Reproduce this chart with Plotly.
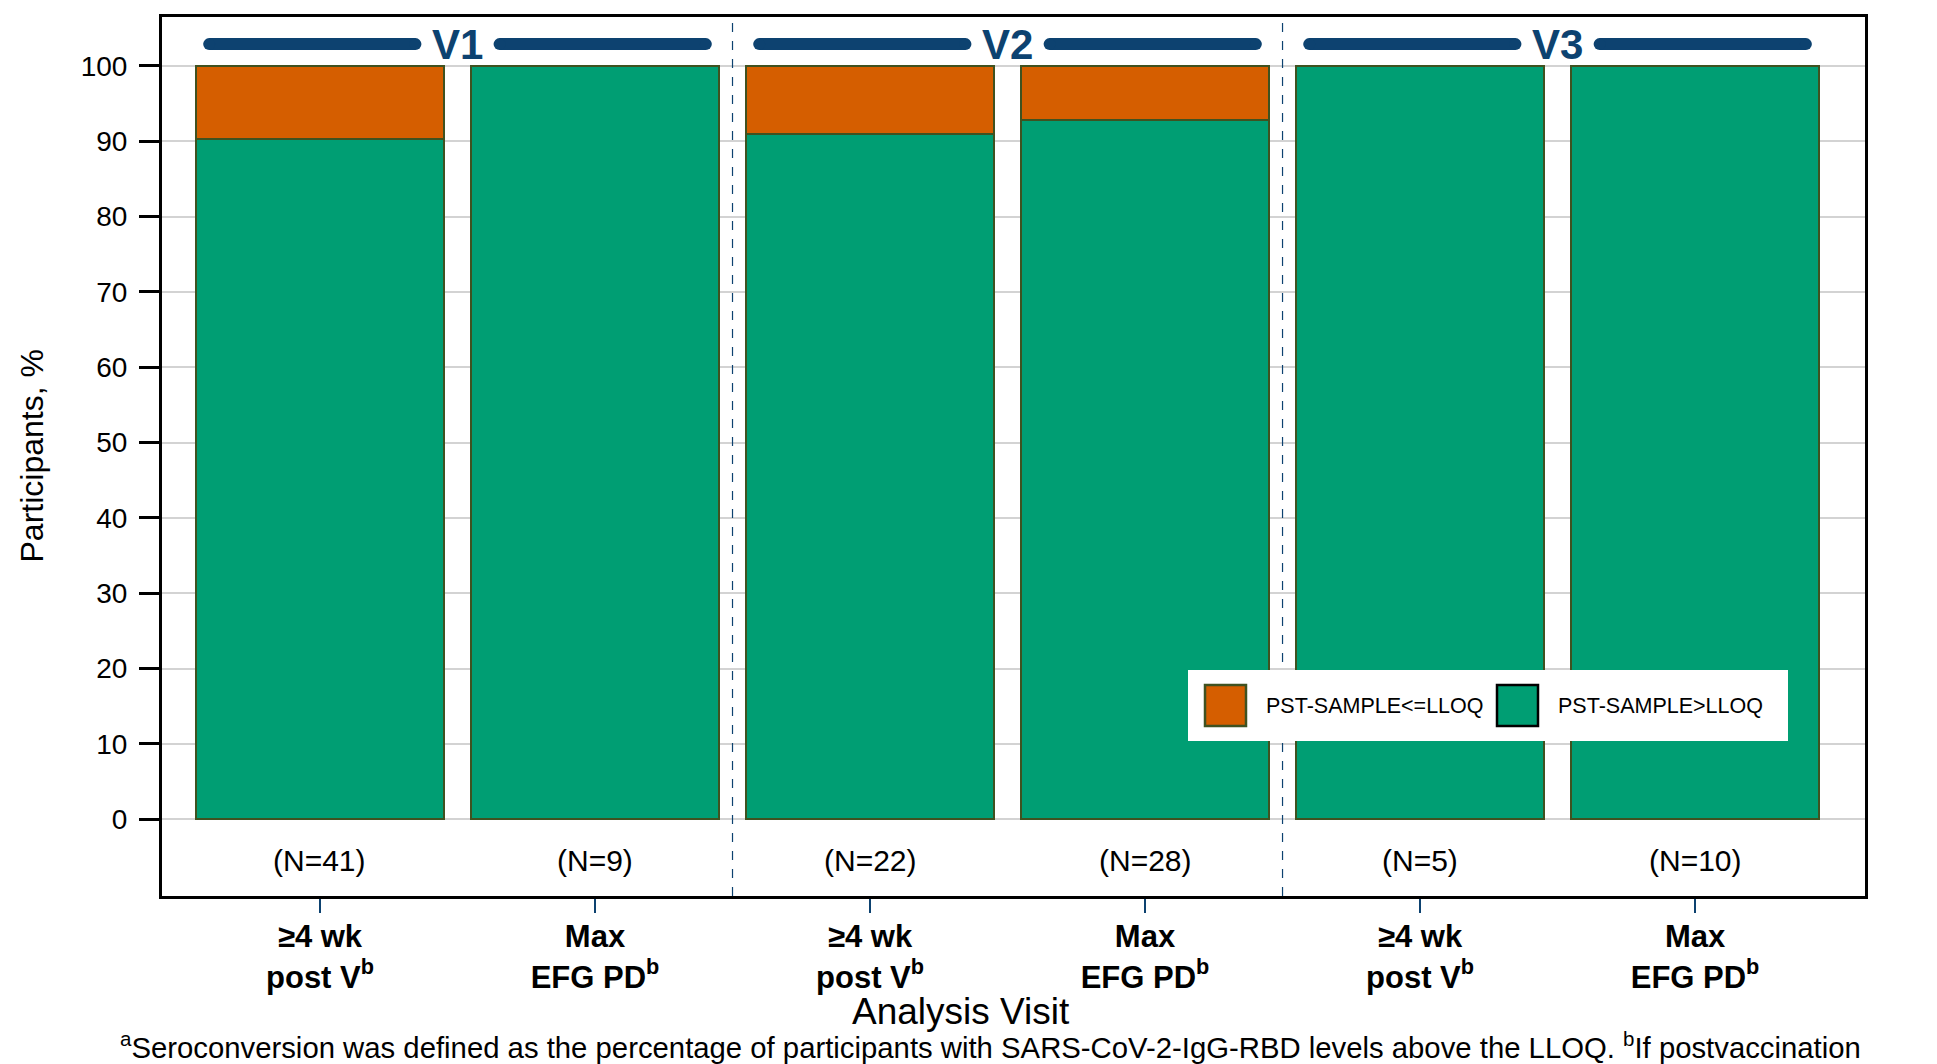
import plotly.graph_objects as go

# ---------------- data ----------------
groups = ["V1", "V2", "V3"]
categories = ["≥4 wk post V", "Max EFG PD", "≥4 wk post V", "Max EFG PD", "≥4 wk post V", "Max EFG PD"]
tick_labels = [
    "<b>≥4 wk</b><br><b>post V<sup>b</sup></b>",
    "<b>Max</b><br><b>EFG PD<sup>b</sup></b>",
    "<b>≥4 wk</b><br><b>post V<sup>b</sup></b>",
    "<b>Max</b><br><b>EFG PD<sup>b</sup></b>",
    "<b>≥4 wk</b><br><b>post V<sup>b</sup></b>",
    "<b>Max</b><br><b>EFG PD<sup>b</sup></b>",
]
n_labels = ["(N=41)", "(N=9)", "(N=22)", "(N=28)", "(N=5)", "(N=10)"]
above_lloq = [90.24, 100.0, 90.91, 92.86, 100.0, 100.0]   # PST-SAMPLE>LLOQ
below_lloq = [9.76, 0.0, 9.09, 7.14, 0.0, 0.0]            # PST-SAMPLE<=LLOQ
series_names = ["PST-SAMPLE<=LLOQ", "PST-SAMPLE>LLOQ"]
y_ticks = list(range(0, 101, 10))
x_title = "Analysis Visit"
y_title = "Participants, %"
footnote = ("<sup>a</sup>Seroconversion was defined as the percentage of participants with "
            "SARS-CoV-2-IgG-RBD levels above the LLOQ. <sup>b</sup>If postvaccination")

# ---------------- style ----------------
ORANGE = "#D55E00"
GREEN = "#009E73"
EDGE = "#3F5220"
NAVY = "#0D4270"
FONT = "Liberation Sans, Arial, sans-serif"

OFF = 8                       # page body margin
W, H = 1937 - OFF, 1064 - OFF
ML, MT = 162 - OFF, 17 - OFF
MR = W - (1865 - OFF)
MB = H - (896 - OFF)
PW, PH = W - ML - MR, H - MT - MB

xpos = list(range(len(categories)))


def px2paper_x(px):          # page pixel -> paper
    return (px - OFF - ML) / PW


def px2paper_y(py):
    return (H - MB - (py - OFF)) / PH


fig = go.Figure()
fig.add_trace(go.Bar(x=xpos, y=above_lloq, name=series_names[1], marker_color=GREEN,
                     marker_line_color=EDGE, marker_line_width=2, width=0.9, showlegend=False))
fig.add_trace(go.Bar(x=xpos, y=below_lloq, name=series_names[0], marker_color=ORANGE,
                     marker_line_color=EDGE, marker_line_width=2, width=0.9, showlegend=False))

# group headers with rounded bars
HEAD_Y = 102.9
for gi, g in enumerate(groups):
    c = 2 * gi + 0.5
    for seg in [(c - 0.903, c - 0.153), (c + 0.153, c + 0.903)]:
        fig.add_trace(go.Scatter(x=list(seg), y=[HEAD_Y, HEAD_Y], mode="lines+markers",
                                 line=dict(color=NAVY, width=12),
                                 marker=dict(color=NAVY, size=12),
                                 showlegend=False, hoverinfo="skip", cliponaxis=False))
    fig.add_annotation(x=c, y=HEAD_Y, text=f"<b>{g}</b>", showarrow=False,
                       font=dict(family=FONT, size=42, color=NAVY), yanchor="middle")
    if gi > 0:
        fig.add_shape(type="line", x0=2 * gi - 0.5, x1=2 * gi - 0.5, y0=0, y1=1,
                      xref="x", yref="paper", line=dict(color=NAVY, width=1.2, dash="dash"))

# N labels
for i, t in enumerate(n_labels):
    fig.add_annotation(x=i, y=-5.45, text=t, showarrow=False,
                       font=dict(family=FONT, size=30, color="black"))

# manual legend (large swatches)
fig.add_shape(type="rect", xref="paper", yref="paper",
              x0=px2paper_x(1188), x1=px2paper_x(1788), y0=px2paper_y(741), y1=px2paper_y(670),
              fillcolor="white", line=dict(width=0), layer="above")
legend_colors = [ORANGE, GREEN]
legend_edges = [EDGE, "black"]
for i, name in enumerate(series_names):
    x0 = 1205 + i * 292
    fig.add_shape(type="rect", xref="paper", yref="paper",
                  x0=px2paper_x(x0), x1=px2paper_x(x0 + 41),
                  y0=px2paper_y(726), y1=px2paper_y(685),
                  fillcolor=legend_colors[i], line=dict(color=legend_edges[i], width=2.5),
                  layer="above")
    fig.add_annotation(xref="paper", yref="paper", x=px2paper_x(x0 + 59), y=px2paper_y(706),
                       text=name, showarrow=False, xanchor="left", yanchor="middle",
                       font=dict(family=FONT, size=21.5, color="black"))

# axis titles and footnote
fig.add_annotation(xref="paper", yref="paper", x=px2paper_x(961), y=px2paper_y(1011),
                   text=x_title, showarrow=False, xanchor="center", yanchor="middle",
                   font=dict(family=FONT, size=37, color="black"))
fig.add_annotation(xref="paper", yref="paper", x=px2paper_x(31), y=0.5,
                   text=y_title, showarrow=False, textangle=-90, xanchor="center", yanchor="middle",
                   font=dict(family=FONT, size=32, color="black"))
fig.add_annotation(xref="paper", yref="paper", x=px2paper_x(118), y=px2paper_y(1045),
                   text=footnote, showarrow=False, xanchor="left", yanchor="middle",
                   font=dict(family=FONT, size=29.3, color="black"))

fig.update_layout(
    width=W, height=H,
    margin=dict(l=ML, r=MR, t=MT, b=MB, autoexpand=False),
    barmode="stack", bargap=0.1,
    plot_bgcolor="white", paper_bgcolor="white",
    font=dict(family=FONT, color="black"),
    showlegend=False,
)
fig.update_xaxes(range=[-0.5745, 5.618], tickvals=xpos, ticktext=tick_labels,
                 tickfont=dict(family=FONT, size=31, color="black"),
                 ticks="outside", ticklen=14, tickwidth=2, tickcolor=NAVY,
                 showline=True, linecolor="black", linewidth=3, mirror=True,
                 showgrid=False, zeroline=False, ticklabelstandoff=-3)
fig.update_yaxes(range=[-10.2, 106.5], tickvals=y_ticks,
                 tickfont=dict(family=FONT, size=28, color="black"),
                 ticks="outside", ticklen=20, tickwidth=3, tickcolor="black",
                 showline=True, linecolor="black", linewidth=3, mirror=True,
                 showgrid=True, gridcolor="#D3D3D3", gridwidth=2, zeroline=False,
                 ticklabelstandoff=6)

fig.write_html("out.html")
